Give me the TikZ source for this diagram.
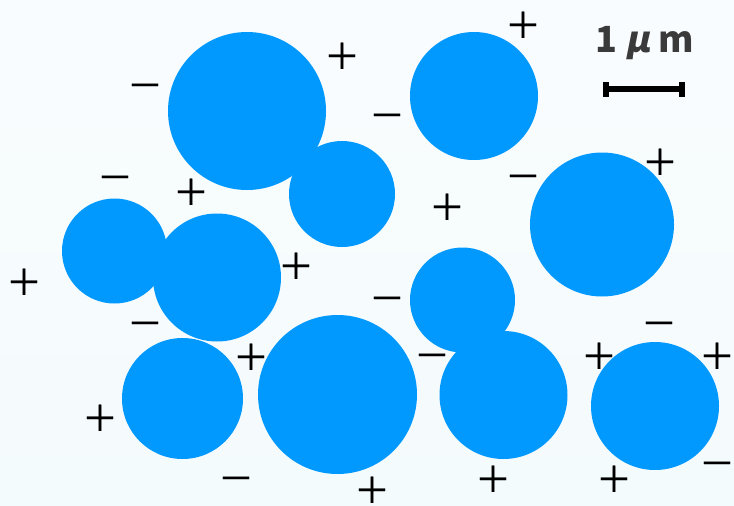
\documentclass[tikz,border=0pt]{standalone}
\usepackage{fontspec}
\newfontfamily\jpfont[FakeBold=0.5]{Noto Sans CJK JP}
\newfontfamily\jpslant[FakeSlant=0.2]{Noto Sans CJK JP}
\newfontfamily\jplabel{Noto Sans CJK JP}
\definecolor{bgtop}{RGB}{249,252,254}
\definecolor{bgbot}{RGB}{244,251,252}
\definecolor{ball}{RGB}{2,153,255}
\definecolor{labelgray}{RGB}{58,58,58}
\tikzset{
  particle/.style={circle, fill=ball, draw=none, inner sep=0pt, minimum size=#1},
  charge/.style={inner sep=0pt, outer sep=0pt, text=black, font=\jpfont\fontsize{36}{36}\selectfont},
  minuscharge/.style={charge, yshift=-6pt},
  scaletext/.style={inner sep=0pt, text=labelgray, font=\jplabel\bfseries\fontsize{36}{36}\selectfont},
  scalebar/.style={line width=5.5pt, draw=black}
}
\begin{document}
\begin{tikzpicture}[x=1pt,y=-1pt]
\shade[top color=bgtop, bottom color=bgbot] (0,0) rectangle (734,506);
\useasboundingbox (0,0) rectangle (734,506);
% particles
\node[particle=158pt] (c1) at (247,111) {};
\node[particle=128pt] (c2) at (474,96) {};
\node[particle=106pt] (c3) at (342,194) {};
\node[particle=144pt] (c4) at (602,224.5) {};
\node[particle=105pt] (c5) at (114.5,251) {};
\node[particle=128pt] (c6) at (217,277.5) {};
\node[particle=105pt] (c7) at (462.5,300) {};
\node[particle=121pt] (c8) at (182.5,398.5) {};
\node[particle=159pt] (c9) at (337.5,394.5) {};
\node[particle=128pt] (c10) at (503.5,395) {};
\node[particle=128pt] (c11) at (655,406) {};
% plus charges
\node[charge] (p1) at (342,56) {＋};
\node[charge] (p2) at (523,25) {＋};
\node[charge] (p3) at (660,162) {＋};
\node[charge] (p4) at (191,192) {＋};
\node[charge] (p5) at (447,207) {＋};
\node[charge] (p6) at (24,282) {＋};
\node[charge] (p7) at (296,266) {＋};
\node[charge] (p8) at (251,357) {＋};
\node[charge] (p9) at (100,418) {＋};
\node[charge] (p10) at (599,356) {＋};
\node[charge] (p11) at (717,356) {＋};
\node[charge] (p12) at (372,490) {＋};
\node[charge] (p13) at (493,479) {＋};
\node[charge] (p14) at (614,479) {＋};
% minus charges
\node[minuscharge] (m1) at (145,85) {－};
\node[minuscharge] (m2) at (387,115) {－};
\node[minuscharge] (m3) at (115,177) {－};
\node[minuscharge] (m4) at (523,176) {－};
\node[minuscharge] (m5) at (387,298) {－};
\node[minuscharge] (m6) at (145,323) {－};
\node[minuscharge] (m7) at (659,323) {－};
\node[minuscharge] (m8) at (432,355) {－};
\node[minuscharge] (m9) at (236,478) {－};
\node[minuscharge] (m10) at (717,463) {－};
% scale bar
\node[scaletext] (lbl) at (645,43) {1 {\jpslant\bfseries μ} m};
\coordinate (sbL) at (606,89);
\coordinate (sbR) at (682,89);
\draw[scalebar] (sbL) -- (sbR);
\draw[line width=6pt] ([yshift=-7.5pt]sbL) -- ([yshift=7.5pt]sbL);
\draw[line width=6pt] ([yshift=-7.5pt]sbR) -- ([yshift=7.5pt]sbR);
\end{tikzpicture}
\end{document}
